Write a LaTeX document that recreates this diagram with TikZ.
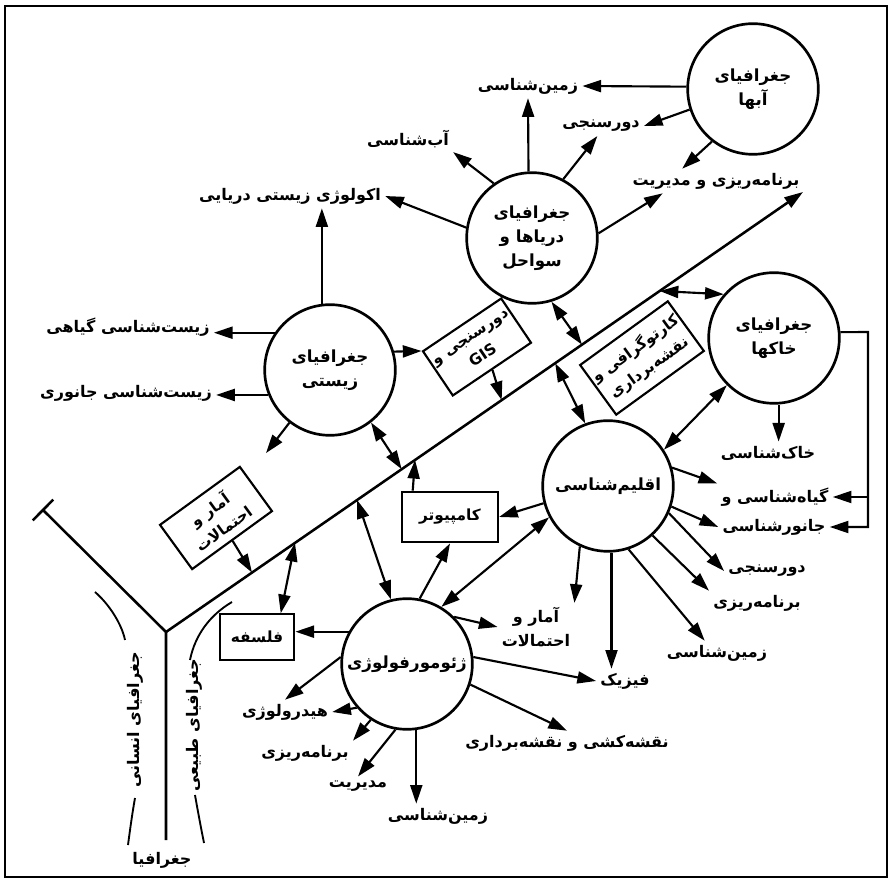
\documentclass[tikz,border=0pt]{standalone}
\usepackage{fontspec}
\setmainfont{Liberation Serif}
\newfontfamily\persianfont[Script=Arabic]{DejaVu Sans}
\TeXXeTstate=1
\usetikzlibrary{arrows.meta,calc}
\newcommand{\fatxt}[1]{\beginR #1\endR}
\tikzset{
  topic/.style={circle, draw, line width=2pt, minimum size=98pt, inner sep=0pt, align=center, font=\persianfont\bfseries\fontsize{12.5}{18}\selectfont},
  field/.style={inner sep=3pt, align=center, font=\persianfont\bfseries\fontsize{12}{18}\selectfont},
  tool/.style={draw, line width=1.6pt, inner sep=2pt, align=center, font=\persianfont\bfseries\fontsize{11.5}{17.5}\selectfont},
  arr/.style={line width=1.6pt, -{Triangle[length=14pt,width=9pt]}},
  darr/.style={line width=1.6pt, {Triangle[length=14pt,width=9pt]}-{Triangle[length=14pt,width=9pt]}},
  tree/.style={line width=1.9pt}
}
\begin{document}
\begin{tikzpicture}[x=0.75pt,y=0.75pt,yscale=-1,xscale=1]
\useasboundingbox (0,0) rectangle (890,880);
%Frame
\draw [line width=1.6pt] (5,6) rectangle (887,877);

%Tree
\coordinate (root) at (166,840);
\coordinate (fork) at (166,632);
\coordinate (human) at (43,510);
\coordinate (phys) at (803,192);
\draw [tree] (root) -- (fork) -- (human);
\draw [tree] ($(human)!11pt!90:(fork)$) -- ($(human)!11pt!-90:(fork)$);
\draw [tree, -{Triangle[length=14pt,width=9pt]}] (fork) -- (phys);
%Brackets
\draw [line width=1.4pt] (95,592) .. controls (110,605) and (122,625) .. (125,640);
\draw [line width=1.4pt] (135,798) .. controls (132,815) and (130,830) .. (128,845);
\draw [line width=1.4pt] (232,602) .. controls (210,615) and (195,635) .. (190,660);
\draw [line width=1.4pt] (195,795) .. controls (198,812) and (201,828) .. (204,843);

% Text Node
\draw (162,860) node [field] (geo) {\fatxt{جغرافیا}};
% Text Node
\draw (135,720) node [field, rotate=90] (hum) {\fatxt{جغرافیای انسانی}};
% Text Node
\draw (194,725) node [field, rotate=90] (nat) {\fatxt{جغرافیای طبیعی}};

%Shape: Circle
\draw (753,89) node [topic] (water) {\fatxt{جغرافیای}\\\fatxt{آبها}};
%Shape: Circle
\draw (532,238) node [topic] (seas) {\fatxt{جغرافیای}\\\fatxt{دریاها و}\\\fatxt{سواحل}};
%Shape: Circle
\draw (330,370) node [topic] (bio) {\fatxt{جغرافیای}\\\fatxt{زیستی}};
%Shape: Circle
\draw (774,338) node [topic] (soil) {\fatxt{جغرافیای}\\\fatxt{خاکها}};
%Shape: Circle
\draw (608,486) node [topic] (clim) {\fatxt{اقلیم^^^^200cشناسی}};
%Shape: Circle
\draw (407,664) node [topic] (geom) {\fatxt{ژئومورفولوژی}};

%Shape: Rectangle
\draw (216,518) node [tool, rotate=36, minimum width=74pt, minimum height=41pt] (amarbox) {\fatxt{آمار و}\\\fatxt{احتمالات}};
%Shape: Rectangle
\draw (477,347) node [tool, rotate=34, minimum width=62pt, minimum height=40pt] (gisbox) {\fatxt{دورسنجی و}\\\textbf{GIS}};
%Shape: Rectangle
\draw (642,358) node [tool, rotate=36, minimum width=79pt, minimum height=46pt] (cartbox) {\fatxt{کارتوگرافی و}\\\fatxt{نقشه^^^^200cبرداری}};
%Shape: Rectangle
\draw (450,517) node [tool, minimum width=72pt, minimum height=38pt] (comp) {\fatxt{کامپیوتر}};
%Shape: Rectangle
\draw (257,637) node [tool, minimum width=56pt, minimum height=34pt] (fal) {\fatxt{فلسفه}};

% Text Node
\draw (528,86) node [field] (zamin1) {\fatxt{زمین^^^^200cشناسی}};
% Text Node
\draw (601,126) node [field] (dur1) {\fatxt{دورسنجی}};
% Text Node
\draw (716,181) node [field] (barmod) {\fatxt{برنامه^^^^200cریزی و مدیریت}};
% Text Node
\draw (408,139) node [field] (ab) {\fatxt{آب^^^^200cشناسی}};
% Text Node
\draw (290,196) node [field] (eco) {\fatxt{اکولوژی زیستی دریایی}};
% Text Node
\draw (128,327) node [field] (gia) {\fatxt{زیست^^^^200cشناسی گیاهی}};
% Text Node
\draw (126,393) node [field] (jan) {\fatxt{زیست^^^^200cشناسی جانوری}};
% Text Node
\draw (768,453) node [field] (khak) {\fatxt{خاک^^^^200cشناسی}};
% Text Node
\draw (775,497) node [field] (giah) {\fatxt{گیاه^^^^200cشناسی و}};
% Text Node
\draw (774,527) node [field] (janvar) {\fatxt{جانورشناسی}};
% Text Node
\draw (767,571) node [field] (dur2) {\fatxt{دورسنجی}};
% Text Node
\draw (757,603) node [field] (barn2) {\fatxt{برنامه^^^^200cریزی}};
% Text Node
\draw (717,653) node [field] (zamin2) {\fatxt{زمین^^^^200cشناسی}};
% Text Node
\draw (625,681) node [field] (fiz) {\fatxt{فیزیک}};
% Text Node
\draw (536,627) node [field] (amar2) {\fatxt{آمار و}\\\fatxt{احتمالات}};
% Text Node
\draw (567,743) node [field] (naq) {\fatxt{نقشه^^^^200cکشی و نقشه^^^^200cبرداری}};
% Text Node
\draw (438,816) node [field] (zamin3) {\fatxt{زمین^^^^200cشناسی}};
% Text Node
\draw (358,786) node [field] (mod) {\fatxt{مدیریت}};
% Text Node
\draw (305,753) node [field] (barn3) {\fatxt{برنامه^^^^200cریزی}};
% Text Node
\draw (285,712) node [field] (hyd) {\fatxt{هیدرولوژی}};

%Straight Lines: water
\draw [arr] (water.178) -- (zamin1.east);
\draw [arr] (water.198) -- (dur1.east);
\draw [arr] (water.232) -- (barmod.160);
%Straight Lines: seas
\draw [arr] (seas.125) -- (ab.south east);
\draw [arr] (seas.93) -- (zamin1.south);
\draw [arr] (seas.62) -- (dur1.250);
\draw [arr] (seas.4) -- (barmod.193);
\draw [arr] (seas.171) -- (eco.east);
\draw [darr] (seas.-73) -- ($(fork)!0.653!(phys)$);
%Straight Lines: bio
\draw [arr] (bio.97) -- (eco.south -| bio.97);
\draw [arr] (bio.146) -- (gia.east |- bio.146);
\draw [arr] (bio.202) -- (jan.east |- bio.202);
\draw [arr, shorten >=22pt] (bio) -- (amarbox);
\draw [arr] (bio.16) -- (gisbox.north west);
\draw [darr] (bio.-52) -- ($(fork)!0.37!(phys)$);
%Straight Lines: boxes
\draw [arr] (amarbox.south) -- ($(fork)!0.135!(phys)$);
\draw [arr] (gisbox.south) -- ($(fork)!0.527!(phys)$);
\draw [arr] ($(comp.north west)!0.12!(comp.north east)$) -- ($(fork)!0.391!(phys)$);
\draw [darr] (fal.45) -- ($(fork)!0.2025!(phys)$);
%Straight Lines: climatology
\draw [darr] ($(fork)!0.611!(phys)$) -- (clim.110);
\draw [darr] (soil.225) -- (clim.33);
\draw [arr] (clim.16) -- (giah.north west);
\draw [arr] (clim.-18) -- (janvar.west);
\draw [arr] (clim.-24) -- (dur2.west);
\draw [arr] (clim.-48) -- (barn2.north west);
\draw [arr] (clim.-72) -- (zamin2.135);
\draw [arr] (clim.-87) -- (fiz.north -| clim.-87);
\draw [arr] (clim.245) -- (amar2.north east);
\draw [arr] (clim.195) -- (comp.east);
%Straight Lines: geomorphology
\draw [arr] (geom.151) -- (fal.east |- geom.151);
\draw [arr] (geom.79) -- (comp.south);
\draw [darr] (geom.104) -- ($(fork)!0.30!(phys)$);
\draw [darr] (geom.59) -- (clim.208);
\draw [arr] (geom.45) -- (amar2.west);
\draw [arr] (geom.6) -- (fiz.west);
\draw [arr] (geom.-18) -- (naq.north);
\draw [arr] (geom.-82) -- (zamin3.north -| geom.-82);
\draw [arr] (geom.260) -- (mod.north);
\draw [arr] (geom.237) -- (barn3.north east);
\draw [arr] (geom.221) -- (hyd.east);
\draw [arr] (geom.174) -- (hyd.north);
%Straight Lines: soils
\coordinate (kbend) at (868,332);
\draw [darr] ($(fork)!0.775!(phys)$) -- (soil.139);
\draw [arr] (soil.-86) -- (khak.north -| soil.-86);
\draw [arr] (soil.5) -- (kbend) |- (janvar.east);
\draw [arr] (kbend) |- (giah.east);
\end{tikzpicture}
\end{document}
